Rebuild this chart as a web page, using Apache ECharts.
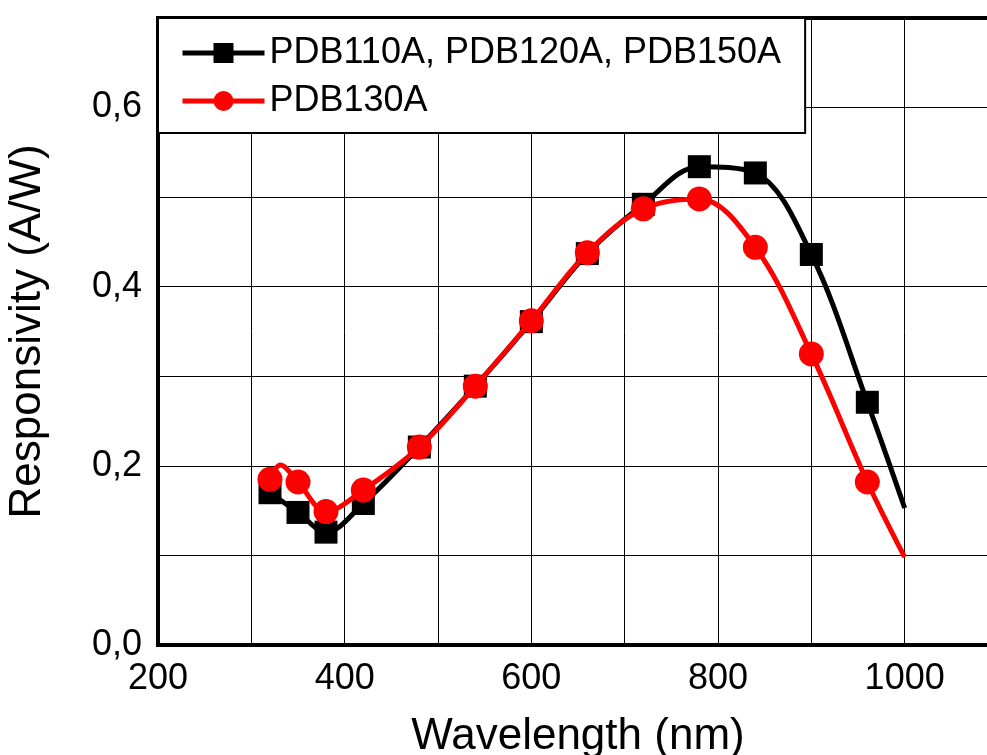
<!DOCTYPE html>
<html>
<head>
<meta charset="utf-8">
<script src="https://cdn.jsdelivr.net/npm/echarts@6/dist/echarts.min.js"></script>
<style>
html,body{margin:0;padding:0;background:#fff;overflow:hidden;}
#chart{width:987px;height:755px;}
</style>
</head>
<body>
<div id="chart"></div>
<script>
// Wavelengths (nm) with markers
const wavelengths = [320, 350, 380, 420, 480, 540, 600, 660, 720, 780, 840, 900, 960];
// PDB110A, PDB120A, PDB150A responsivity (A/W)
const blackValues = [0.170, 0.148, 0.126, 0.158, 0.221, 0.289, 0.361, 0.437, 0.492, 0.534, 0.527, 0.436, 0.271];
const blackEnd = [1000, 0.153];
// PDB130A responsivity (A/W)
const redValues = [0.185, 0.182, 0.149, 0.173, 0.221, 0.289, 0.362, 0.438, 0.487, 0.498, 0.444, 0.325, 0.182];
const redExtra = [331, 0.201];
const redEnd = [1000, 0.098];

const seriesNames = ['PDB110A, PDB120A, PDB150A', 'PDB130A'];
const xTickLabels = [200, 400, 600, 800, 1000];
const yTickLabels = ['0,0', '0,2', '0,4', '0,6'];

const FONT = '"Liberation Sans", Arial, sans-serif';

function buildData(xs, ys, extras, end) {
  const pts = xs.map((x, i) => ({ value: [x, ys[i]] }));
  extras.forEach(e => pts.push({ value: e, symbol: 'none' }));
  pts.push({ value: end, symbol: 'none' });
  pts.sort((a, b) => a.value[0] - b.value[0]);
  return pts;
}

const chart = echarts.init(document.getElementById('chart'), null, { renderer: 'canvas' });
chart.setOption({
  animation: false,
  backgroundColor: '#fff',
  textStyle: { fontFamily: FONT },
  grid: {
    left: 158, width: 840, top: 18, bottom: 110,
    containLabel: false, outerBoundsMode: 'none',
    show: true, borderColor: '#000', borderWidth: 4, backgroundColor: 'transparent'
  },
  legend: {
    left: 158, top: 18,
    orient: 'vertical',
    padding: [15, 24, 12, 22],
    itemGap: 8,
    itemWidth: 82,
    itemHeight: 25,
    backgroundColor: '#fff',
    borderColor: '#000',
    borderWidth: 2,
    lineStyle: { width: 5 },
    textStyle: { fontFamily: FONT, fontSize: 36, color: '#000', lineHeight: 40 },
    data: seriesNames
  },
  xAxis: {
    type: 'value', min: 200, max: 1100, interval: 100,
    name: 'Wavelength (nm)', nameLocation: 'middle', nameGap: 70,
    nameTextStyle: { fontFamily: FONT, fontSize: 44, color: '#000' },
    axisLine: { show: true, lineStyle: { color: '#000', width: 4 } },
    axisTick: { show: false },
    axisLabel: {
      fontFamily: FONT, fontSize: 36, color: '#000', margin: 16,
      showMaxLabel: false,
      formatter: v => xTickLabels.indexOf(Math.round(v)) >= 0 ? String(Math.round(v)) : ''
    },
    splitLine: { show: true, lineStyle: { color: '#000', width: 1 } }
  },
  yAxis: {
    type: 'value', min: 0, max: 0.7, interval: 0.1,
    name: 'Responsivity (A/W)', nameLocation: 'middle', nameGap: 108,
    nameTextStyle: { fontFamily: FONT, fontSize: 44, color: '#000' },
    axisLine: { show: true, lineStyle: { color: '#000', width: 4 } },
    axisTick: { show: false },
    axisLabel: {
      fontFamily: FONT, fontSize: 36, color: '#000', margin: 16,
      showMaxLabel: false,
      formatter: v => {
        const k = Math.round(v * 10);
        return (k % 2 === 0 && k / 2 < yTickLabels.length) ? yTickLabels[k / 2] : '';
      }
    },
    splitLine: { show: true, lineStyle: { color: '#000', width: 1 } }
  },
  series: [
    {
      name: seriesNames[0], type: 'line', smooth: 0.35,
      symbol: 'rect', symbolSize: 23,
      lineStyle: { color: '#000', width: 5 },
      itemStyle: { color: '#000' },
      data: buildData(wavelengths, blackValues, [], blackEnd),
      z: 3
    },
    {
      name: seriesNames[1], type: 'line', smooth: 0.35,
      symbol: 'circle', symbolSize: 25,
      lineStyle: { color: '#ff0000', width: 5 },
      itemStyle: { color: '#ff0000' },
      data: buildData(wavelengths, redValues, [redExtra], redEnd),
      z: 4
    }
  ]
});
</script>
</body>
</html>
